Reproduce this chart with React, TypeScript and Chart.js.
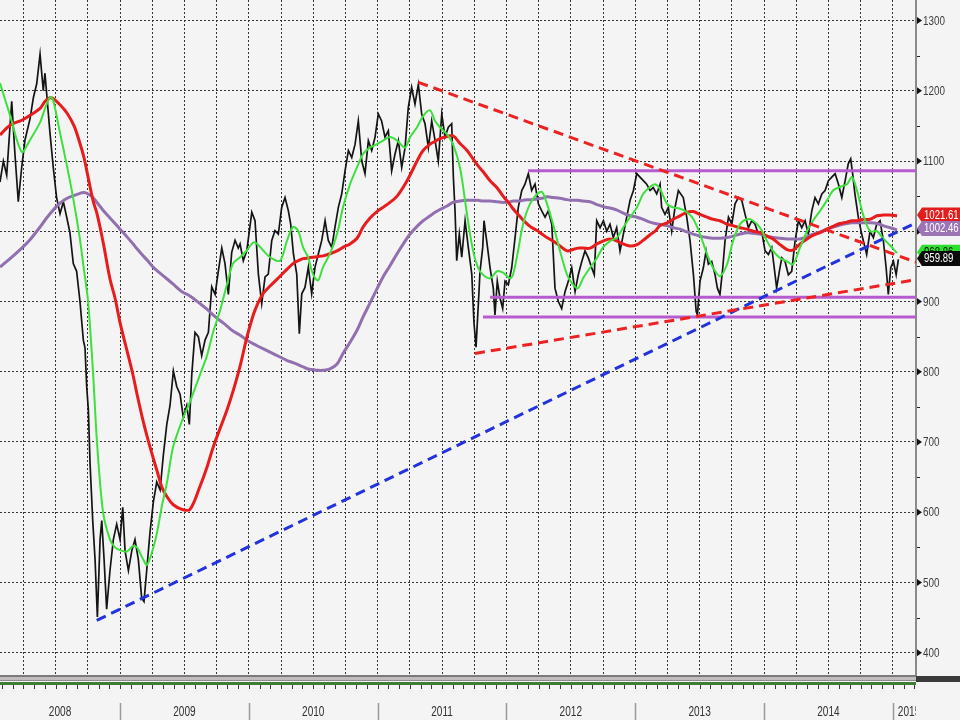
import React, { useEffect, useRef } from "react";
import { Chart, registerables } from "chart.js";

Chart.register(...registerables);

// ---------- axis ranges & labels ----------
const xMin = 2008.068;
const xMax = 2015.18;
const yMin = 368.3;
const yMax = 1329.2;
const yTicks = [400, 500, 600, 700, 800, 900, 1000, 1100, 1200, 1300];
const yMinorTicks = [450, 550, 650, 750, 850, 950, 1050, 1150, 1250];
const yearLabels = ["2008", "2009", "2010", "2011", "2012", "2013", "2014", "2015"];
const yearStarts = [2008, 2009, 2010, 2011, 2012, 2013, 2014, 2015];

// ---------- price (year, close) ----------
const priceSeries: [number, number][] = [
  [2008.068,1070],[2008.094,1100],[2008.120,1080],[2008.159,1185],[2008.184,1110],[2008.210,1042],[2008.236,1090],[2008.262,1130],[2008.301,1160],[2008.327,1190],
  [2008.353,1210],[2008.379,1252],[2008.404,1200],[2008.417,1225],[2008.456,1140],[2008.482,1090],[2008.508,1047],[2008.534,1025],[2008.560,1042],[2008.586,1020],
  [2008.611,998],[2008.637,954],[2008.663,943],[2008.689,900],[2008.715,845],[2008.728,834],[2008.741,779],[2008.754,746],[2008.767,670],[2008.788,588],
  [2008.806,533],[2008.824,451],[2008.845,561],[2008.858,588],[2008.876,533],[2008.896,462],[2008.922,517],[2008.948,561],[2008.974,583],[2009.000,561],
  [2009.021,607],[2009.039,545],[2009.065,517],[2009.091,545],[2009.116,561],[2009.142,533],[2009.168,478],[2009.186,473],[2009.207,517],[2009.233,572],
  [2009.259,615],[2009.285,643],[2009.311,632],[2009.336,681],[2009.363,725],[2009.388,752],[2009.414,801],[2009.440,779],[2009.466,768],[2009.491,735],
  [2009.518,752],[2009.538,725],[2009.557,796],[2009.582,856],[2009.608,850],[2009.634,823],[2009.660,845],[2009.686,856],[2009.712,921],[2009.738,910],
  [2009.763,943],[2009.790,976],[2009.815,954],[2009.841,910],[2009.867,970],[2009.893,987],[2009.918,976],[2009.932,982],[2009.957,958],[2009.984,972],
  [2010.023,1027],[2010.048,1015],[2010.074,939],[2010.100,897],[2010.126,935],[2010.151,939],[2010.178,987],[2010.203,1001],[2010.229,996],[2010.255,1034],
  [2010.281,1048],[2010.307,1029],[2010.325,1010],[2010.346,968],[2010.372,939],[2010.392,854],[2010.411,911],[2010.436,920],[2010.462,949],[2010.488,911],
  [2010.514,949],[2010.540,968],[2010.566,987],[2010.592,1015],[2010.617,987],[2010.644,977],[2010.669,1006],[2010.695,1034],[2010.721,1053],[2010.747,1086],
  [2010.773,1115],[2010.799,1105],[2010.825,1124],[2010.850,1157],[2010.877,1100],[2010.902,1082],[2010.928,1129],[2010.954,1115],[2010.980,1134],[2011.005,1167],
  [2011.031,1157],[2011.057,1134],[2011.083,1143],[2011.109,1086],[2011.135,1110],[2011.161,1129],[2011.187,1091],[2011.213,1119],[2011.238,1176],[2011.264,1205],
  [2011.290,1181],[2011.316,1209],[2011.342,1167],[2011.368,1153],[2011.394,1119],[2011.420,1157],[2011.446,1129],[2011.471,1100],[2011.498,1167],[2011.523,1134],
  [2011.549,1148],[2011.575,1153],[2011.588,1077],[2011.601,1029],[2011.614,958],[2011.634,996],[2011.653,963],[2011.679,1015],[2011.704,977],[2011.731,939],
  [2011.748,870],[2011.764,835],[2011.783,900],[2011.795,943],[2011.816,977],[2011.826,1015],[2011.847,986],[2011.873,948],[2011.898,919],[2011.911,881],
  [2011.929,929],[2011.950,905],[2011.971,890],[2011.989,929],[2012.015,924],[2012.041,948],[2012.067,991],[2012.092,1034],[2012.119,1058],[2012.144,1067],
  [2012.170,1082],[2012.196,1058],[2012.222,1067],[2012.248,1039],[2012.274,1029],[2012.300,1020],[2012.325,1029],[2012.352,1010],[2012.377,919],[2012.403,900],
  [2012.429,890],[2012.455,914],[2012.481,929],[2012.507,948],[2012.533,914],[2012.558,938],[2012.585,957],[2012.610,972],[2012.636,962],[2012.662,948],
  [2012.682,938],[2012.701,1015],[2012.727,1005],[2012.753,1015],[2012.779,1000],[2012.804,1010],[2012.830,991],[2012.856,1005],[2012.882,972],[2012.908,996],
  [2012.934,1020],[2012.960,1044],[2012.986,1058],[2013.012,1082],[2013.037,1077],[2013.063,1072],[2013.089,1067],[2013.115,1058],[2013.140,1062],[2013.167,1053],
  [2013.193,1067],[2013.205,1034],[2013.231,1024],[2013.257,1034],[2013.283,1000],[2013.309,1034],[2013.335,1058],[2013.373,1048],[2013.400,1020],[2013.426,986],
  [2013.452,938],[2013.473,886],[2013.483,881],[2013.503,929],[2013.529,948],[2013.550,972],[2013.568,953],[2013.594,957],[2013.620,938],[2013.638,919],
  [2013.658,910],[2013.680,948],[2013.697,986],[2013.724,1020],[2013.750,1010],[2013.775,1039],[2013.801,1048],[2013.827,1044],[2013.853,1024],[2013.879,1005],
  [2013.905,1015],[2013.930,1010],[2013.956,996],[2013.982,1000],[2014.008,972],[2014.034,967],[2014.060,977],[2014.086,938],[2014.098,919],[2014.119,943],
  [2014.138,962],[2014.163,957],[2014.189,938],[2014.215,943],[2014.241,986],[2014.267,1015],[2014.293,1005],[2014.319,1015],[2014.344,996],[2014.371,1029],
  [2014.396,1048],[2014.422,1039],[2014.449,1053],[2014.474,1058],[2014.500,1072],[2014.526,1077],[2014.552,1082],[2014.578,1067],[2014.604,1048],[2014.630,1072],
  [2014.654,1096],[2014.673,1103],[2014.688,1082],[2014.706,1053],[2014.732,1020],[2014.758,996],[2014.784,977],[2014.797,967],[2014.823,1000],[2014.849,991],
  [2014.875,1010],[2014.901,1015],[2014.927,986],[2014.948,948],[2014.965,910],[2014.984,948],[2015.005,957],[2015.026,938],[2015.043,960],
];

// ---------- moving averages (shared dates) ----------
const maYears = [
  2008.068,2008.146,2008.237,2008.301,2008.379,2008.418,2008.457,2008.480,2008.534,2008.589,
  2008.643,2008.689,2008.720,2008.752,2008.790,2008.821,2008.868,2008.922,2008.961,2009.000,
  2009.054,2009.101,2009.132,2009.179,2009.210,2009.256,2009.287,2009.326,2009.365,2009.411,
  2009.481,2009.543,2009.621,2009.675,2009.722,2009.776,2009.831,2009.877,2009.932,2009.986,
  2010.033,2010.064,2010.110,2010.165,2010.242,2010.297,2010.343,2010.382,2010.421,2010.460,
  2010.498,2010.537,2010.576,2010.630,2010.685,2010.731,2010.786,2010.840,2010.887,2010.941,
  2010.995,2011.042,2011.096,2011.151,2011.213,2011.252,2011.306,2011.353,2011.407,2011.446,
  2011.484,2011.539,2011.585,2011.640,2011.694,2011.741,2011.780,2011.818,2011.873,2011.927,
  2011.974,2012.028,2012.051,2012.090,2012.129,2012.183,2012.238,2012.276,2012.315,2012.362,
  2012.416,2012.471,2012.517,2012.556,2012.595,2012.649,2012.703,2012.750,2012.804,2012.859,
  2012.905,2012.960,2013.014,2013.061,2013.115,2013.154,2013.193,2013.247,2013.294,2013.348,
  2013.402,2013.449,2013.503,2013.558,2013.604,2013.658,2013.713,2013.759,2013.814,2013.868,
  2013.915,2013.969,2014.023,2014.070,2014.124,2014.179,2014.225,2014.280,2014.334,2014.380,
  2014.435,2014.489,2014.536,2014.590,2014.644,2014.683,2014.722,2014.769,2014.823,2014.877,
  2014.924,2014.978,2015.033,
];
const greenMA = [
  1211,1165,1113,1130,1155,1175,1191,1187,1140,1092,
  1040,988,945,900,800,700,600,561,550,546,
  544,552,550,533,525,548,571,610,643,692,
  730,757,796,823,856,887,925,954,963,973,
  984,982,973,963,958,987,1006,1001,977,963,
  939,930,949,968,996,1034,1067,1091,1110,1119,
  1124,1129,1134,1129,1119,1134,1148,1164,1172,1157,
  1148,1138,1124,1090,1024,972,948,938,933,943,
  941,933,938,972,1010,1039,1053,1056,1039,1010,
  972,938,924,919,933,948,962,977,986,991,
  1005,1020,1034,1053,1063,1067,1060,1039,1034,1032,
  1027,1018,996,967,948,936,953,986,1010,1017,
  1015,1005,986,972,962,957,953,977,1000,1015,
  1029,1044,1058,1063,1067,1077,1058,1024,1000,1000,
  990,980,969,
];
const redMA = [
  1137,1151,1158,1165,1175,1185,1190,1189,1180,1168,
  1150,1125,1105,1077,1044,1025,985,932,905,870,
  830,795,768,730,708,678,659,635,622,611,
  604,604,637,664,692,719,746,772,808,850,
  880,895,911,922,936,946,954,958,961,962,
  963,964,965,968,972,977,982,990,1006,1019,
  1028,1034,1041,1050,1067,1080,1100,1115,1124,1128,
  1132,1135,1136,1125,1115,1103,1093,1085,1072,1062,
  1050,1038,1032,1024,1016,1007,1001,996,991,986,
  979,972,974,976,976,976,982,986,989,986,
  982,979,981,987,995,1000,1008,1012,1017,1022,
  1027,1028,1024,1020,1017,1015,1010,1008,1005,1003,
  1000,998,993,989,981,974,973,982,989,994,
  998,1003,1007,1011,1013,1015,1015,1017,1017,1022,
  1023,1023,1022,
];
const purpleMA = [
  949,961,976,988,1006,1016,1025,1030,1040,1047,
  1051,1054,1055,1053,1048,1041,1030,1019,1011,1003,
  992,982,975,965,959,949,944,938,932,925,
  914,908,897,889,881,873,865,858,852,845,
  840,837,833,828,821,816,813,810,807,804,
  803,802,802,804,811,826,842,859,878,898,
  918,935,951,968,986,996,1007,1015,1022,1027,
  1031,1036,1041,1043,1044,1044,1044,1043,1043,1042,
  1041,1042,1043,1043,1044,1045,1046,1047,1049,1048,
  1047,1045,1044,1044,1043,1042,1038,1035,1033,1030,
  1026,1022,1020,1017,1013,1011,1010,1008,1005,1003,
  999,996,993,991,990,990,991,993,996,998,
  997,996,993,991,990,989,989,989,992,996,
  999,1003,1006,1009,1011,1012,1012,1012,1012,1011,
  1008,1005,1002,
];

// ---------- trend lines & range levels ----------
const resistanceYears = [2011.316, 2015.18];
const resistanceValues = [1212, 956];
const supportYears = [2011.756, 2015.18];
const supportValues = [826, 931];
const longTrendYears = [2008.819, 2015.18];
const longTrendValues = [446, 1012];
const rangeLevels = [1086, 906, 878];
const rangeStartYears = [2012.168, 2011.873, 2011.818];

// ---------- last-value tags ----------
const lastTagTexts = ["1021.61", "1002.46", "968.86", "959.89"];
const lastTagValues = [1021.61, 1002.46, 968.86, 959.89];

// ---------- styles ----------
const FONT = '"Liberation Sans", Arial, sans-serif';
const tagFills = ["#e31d1d", "#9b74b6", "#2ee02e", "#0a0a0a"];
const tagTextColors = ["#ffffff", "#ffffff", "#0a0a0a", "#ffffff"];

const pts = (xs: number[], ys: number[]) => xs.map((x, i) => ({ x, y: ys[i] }));

function narrowText(ctx: CanvasRenderingContext2D, text: string, x: number, y: number, sx: number) {
  ctx.save();
  ctx.translate(x, y);
  ctx.scale(sx, 1);
  ctx.fillText(text, 0, 0);
  ctx.restore();
}

const decorPlugin = {
  id: "decor",
  beforeDraw(chart: any) {
    const { ctx, width, height } = chart;
    ctx.save();
    ctx.fillStyle = "#f4f4f4";
    ctx.fillRect(0, 0, width, height);
    ctx.restore();
  },
  afterDraw(chart: any) {
    const { ctx, chartArea, scales, width, height } = chart;
    const xs = scales.x;
    const ys = scales.y;
    const right = chartArea.right;
    const bottom = chartArea.bottom;
    ctx.save();

    // bottom strip
    ctx.fillStyle = "#7b7b7b";
    ctx.fillRect(0, bottom, right, 2);
    ctx.fillStyle = "#c2bcbc";
    ctx.fillRect(0, bottom + 2, right, 3);
    ctx.fillStyle = "#8d8d8d";
    ctx.fillRect(0, bottom + 5, right, 1);
    ctx.fillStyle = "#3f7d37";
    ctx.fillRect(0, bottom + 7, right, 3);
    ctx.fillStyle = "#3a3a3a";
    ctx.fillRect(right, bottom + 1, width - right, 6);

    // monthly ticks under the strip
    ctx.strokeStyle = "#3a3a3a";
    ctx.lineWidth = 1;
    for (const y0 of yearStarts) {
      for (let m = 0; m < 12; m++) {
        const v = y0 + m / 12;
        if (v < xMin || v > xMax) continue;
        const px = Math.round(xs.getPixelForValue(v)) + 0.5;
        ctx.beginPath();
        ctx.moveTo(px, bottom + 10);
        ctx.lineTo(px, bottom + 14);
        ctx.stroke();
      }
    }

    // year separators + labels
    ctx.strokeStyle = "#9a9a9a";
    ctx.lineWidth = 1.5;
    yearStarts.forEach((y0) => {
      if (y0 <= xMin) return;
      const px = Math.round(xs.getPixelForValue(y0)) + 0.5;
      ctx.beginPath();
      ctx.moveTo(px, bottom + 28);
      ctx.lineTo(px, height);
      ctx.stroke();
    });
    ctx.save();
    ctx.beginPath();
    ctx.rect(0, bottom + 15, right, height - bottom);
    ctx.clip();
    ctx.fillStyle = "#333333";
    ctx.font = `14px ${FONT}`;
    ctx.textBaseline = "middle";
    yearLabels.forEach((lab, i) => {
      const y0 = yearStarts[i];
      if (y0 + 1 > xMax) {
        ctx.textAlign = "left";
        narrowText(ctx, lab, xs.getPixelForValue(y0) + 5, bottom + 37, 0.72);
      } else {
        const a = Math.max(xMin, y0);
        const cx = (xs.getPixelForValue(a) + xs.getPixelForValue(y0 + 1)) / 2;
        ctx.textAlign = "center";
        narrowText(ctx, lab, cx, bottom + 37, 0.72);
      }
    });
    ctx.restore();

    // y axis markers and labels
    ctx.fillStyle = "#111111";
    yTicks.forEach((v) => {
      const py = ys.getPixelForValue(v);
      ctx.beginPath();
      ctx.moveTo(right + 1, py - 3.5);
      ctx.lineTo(right + 6, py);
      ctx.lineTo(right + 1, py + 3.5);
      ctx.closePath();
      ctx.fill();
    });
    ctx.strokeStyle = "#222222";
    ctx.lineWidth = 1;
    yMinorTicks.forEach((v) => {
      const py = Math.round(ys.getPixelForValue(v)) + 0.5;
      ctx.beginPath();
      ctx.moveTo(right + 1, py);
      ctx.lineTo(right + 4, py);
      ctx.stroke();
    });
    ctx.fillStyle = "#3c3c3c";
    ctx.font = `13px ${FONT}`;
    ctx.textAlign = "left";
    ctx.textBaseline = "middle";
    yTicks.forEach((v) => {
      const py = ys.getPixelForValue(v);
      narrowText(ctx, String(v), right + 7, py + 0.5, 0.76);
    });

    // last-value tags
    ctx.font = `12px ${FONT}`;
    ctx.textAlign = "left";
    ctx.textBaseline = "middle";
    lastTagTexts.forEach((t, i) => {
      const cy = ys.getPixelForValue(lastTagValues[i]) - 1;
      ctx.beginPath();
      ctx.moveTo(right + 1, cy);
      ctx.lineTo(right + 6, cy - 7.5);
      ctx.lineTo(width, cy - 7.5);
      ctx.lineTo(width, cy + 7.5);
      ctx.lineTo(right + 6, cy + 7.5);
      ctx.closePath();
      ctx.fillStyle = tagFills[i];
      ctx.fill();
      ctx.fillStyle = tagTextColors[i];
      narrowText(ctx, t, right + 8, cy + 0.5, 0.8);
    });

    ctx.restore();
  },
};

export default function App() {
  const ref = useRef<HTMLCanvasElement | null>(null);

  useEffect(() => {
    const canvas = ref.current;
    if (!canvas) return;

    const rangeSets = rangeLevels.map((lvl, i) => ({
      label: `range ${lvl}`,
      data: [{ x: rangeStartYears[i], y: lvl }, { x: xMax, y: lvl }],
      borderColor: "#b75ccf",
      borderWidth: 3,
      pointRadius: 0,
      order: 5,
    }));

    const chart = new Chart(canvas, {
      type: "line",
      data: {
        datasets: [
          {
            label: "Price",
            data: priceSeries.map(([x, y]) => ({ x, y })),
            borderColor: "#141414",
            borderWidth: 1.7,
            pointRadius: 0,
            tension: 0,
            order: 10,
          },
          {
            label: "Long MA",
            data: pts(maYears, purpleMA),
            borderColor: "#9270b0",
            borderWidth: 3,
            pointRadius: 0,
            tension: 0.35,
            order: 9,
          },
          {
            label: "Mid MA",
            data: pts(maYears, redMA),
            borderColor: "#e81c1c",
            borderWidth: 3,
            pointRadius: 0,
            tension: 0.35,
            order: 8,
          },
          {
            label: "Short MA",
            data: pts(maYears, greenMA),
            borderColor: "#3de03d",
            borderWidth: 2,
            pointRadius: 0,
            tension: 0.3,
            order: 7,
          },
          ...rangeSets,
          {
            label: "Long trend",
            data: pts(longTrendYears, longTrendValues),
            borderColor: "#2233dd",
            borderWidth: 3,
            borderDash: [10, 6],
            pointRadius: 0,
            order: 4,
          },
          {
            label: "Resistance",
            data: pts(resistanceYears, resistanceValues),
            borderColor: "#ee2222",
            borderWidth: 3,
            borderDash: [10, 6],
            pointRadius: 0,
            order: 3,
          },
          {
            label: "Support",
            data: pts(supportYears, supportValues),
            borderColor: "#ee2222",
            borderWidth: 3,
            borderDash: [10, 6],
            pointRadius: 0,
            order: 3,
          },
        ],
      },
      options: {
        responsive: false,
        animation: false,
        devicePixelRatio: 1,
        layout: { padding: 0 },
        plugins: {
          legend: { display: false },
          tooltip: { enabled: false },
        },
        scales: {
          x: {
            type: "linear",
            position: "bottom",
            min: xMin,
            max: xMax,
            afterBuildTicks: (s: any) => {
              const t: { value: number }[] = [];
              for (const y0 of yearStarts) {
                for (let q = 0; q < 4; q++) {
                  const v = y0 + q / 4;
                  if (v > xMin && v < xMax) t.push({ value: v });
                }
              }
              s.ticks = t;
            },
            afterFit: (s: any) => {
              s.height = 45;
              s.paddingLeft = 0;
              s.paddingRight = 0;
            },
            ticks: { display: false },
            grid: { color: "#333333", lineWidth: 1, drawTicks: false },
            border: { display: false, dash: [2, 2] },
          },
          y: {
            type: "linear",
            position: "right",
            min: yMin,
            max: yMax,
            afterBuildTicks: (s: any) => {
              s.ticks = yTicks.map((v) => ({ value: v }));
            },
            afterFit: (s: any) => {
              s.width = 44;
              s.paddingTop = 0;
              s.paddingBottom = 0;
            },
            ticks: { display: false },
            grid: { color: "#333333", lineWidth: 1, drawTicks: false },
            border: { display: true, color: "#8a8a8a", width: 2, dash: [2, 2] },
          },
        },
      },
      plugins: [decorPlugin],
    } as any);

    return () => chart.destroy();
  }, []);

  return (
    <div style={{ position: "absolute", left: 0, top: 0, width: 960, height: 720, background: "#f4f4f4" }}>
      <canvas ref={ref} width={960} height={720} style={{ display: "block", width: 960, height: 720 }} />
    </div>
  );
}
